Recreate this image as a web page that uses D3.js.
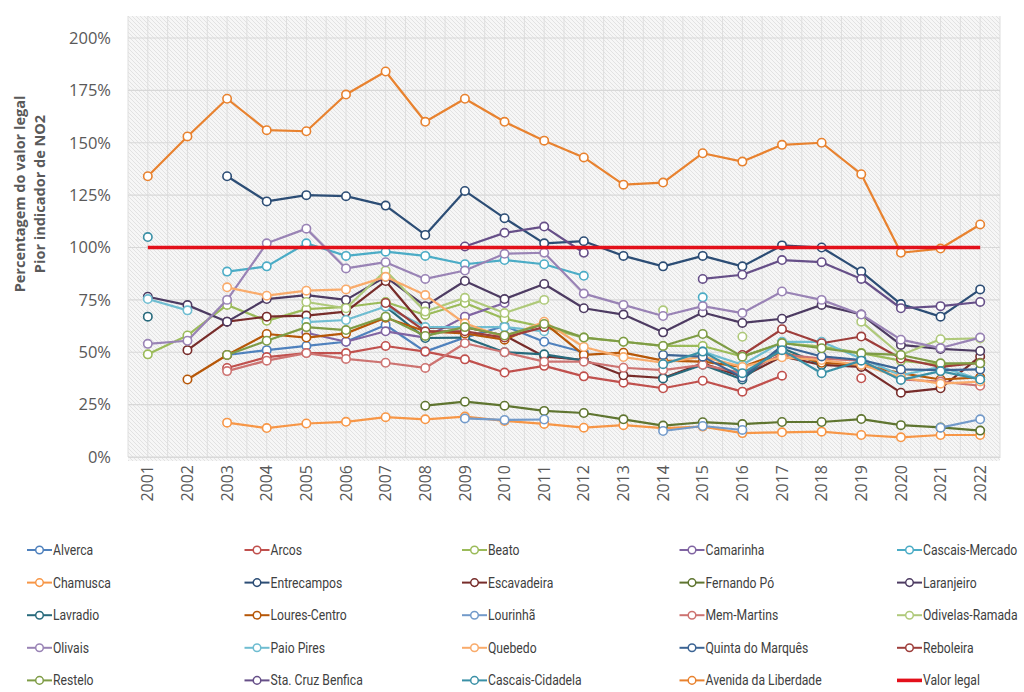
<!DOCTYPE html>
<html><head><meta charset="utf-8">
<script src="https://cdn.jsdelivr.net/npm/d3@7"></script>
<style>body{margin:0;background:#fff}</style>
</head><body><svg id="c" width="1024" height="692"></svg>
<script>
const n = null;
const years = [2001,2002,2003,2004,2005,2006,2007,2008,2009,2010,2011,2012,2013,2014,2015,2016,2017,2018,2019,2020,2021,2022];
const yTicks = [0,25,50,75,100,125,150,175,200];
const legalValue = 100;

const alverca = [n,n,48.7,51,53,55,63,50.3,57,62.5,55,50,n,n,n,n,n,n,n,n,n,n];
const arcos = [n,n,42.5,47.7,49.6,49.6,53,50.3,46.6,40.3,43.5,38.5,35.5,32.8,36.4,31.2,38.8,n,37.6,n,n,n];
const beato = [49,58,72.6,65,70.6,71.6,74,67.8,73.5,66,62,57,55,53,53,48,54.4,52.7,49.6,46,44,45];
const camarinha = [n,n,n,n,59.3,55,60,57,67,73.5,n,n,n,n,n,n,n,n,n,n,n,n];
const cascaisMercado = [n,n,88.5,91,102,96,98,96,92,94,92,86.5,n,n,76.2,n,n,n,n,n,n,n];
const chamusca = [n,n,16.4,13.8,16,16.8,19,18,19.3,17.2,15.8,14,15.2,13.8,14.5,11.4,11.8,12.1,10.5,9.4,10.5,10.5];
const entrecampos = [n,n,134,122,125,124.5,120,106,127,114,102,103,96,91,96,91,101,100,88.5,73,67,80];
const escavadeira = [n,51,64.6,67,67.5,69.4,84,61.6,62,58,48,46.3,39,37.7,44.7,38.3,48,44,43,30.7,32.8,48];
const fernandoPo = [n,n,n,n,n,n,n,24.5,26.4,24.5,22,21,18,15,16.6,15.7,16.7,16.7,18.1,15.2,14.1,12.6];
const laranjeiro = [76.5,72.5,64.6,75.4,77.3,75,86,72,84,75.4,82.6,71,68,59.5,69,64,66,72.6,68,53.5,51.6,50.6];
const lavradio = [67,n,n,n,n,n,71.8,56.8,57,50,49,46,n,37.5,44,37,52,44,n,n,n,n];
const louresCentro = [n,37,48.7,58.7,57,59,66.5,60,59,56,64,48.7,49.8,46,45.5,43,50,45,44,40,37,38];
const lourinha = [n,n,n,n,n,n,n,n,18.4,17.7,17.9,n,n,12.4,14.8,12.9,n,n,n,n,14,18];
const memMartins = [n,n,41,46,49.6,46.8,45,42.5,54.3,50,45.5,45.5,42.6,41.5,44,40,49,47,46,37,36,34];
const odivelasRamada = [n,n,n,n,74,71,89,69.4,76,68.7,75,n,n,70,n,57.4,n,n,64.6,48.7,56.2,56.6];
const olivais = [54,55.5,75,102,109,90,93,85,89,97,97.5,78,72.6,67.3,72,68.7,79,75,68,56,52,57];
const paioPires = [75.4,70,n,n,64.4,65.4,71.8,62,62,62,60,n,n,n,50.3,44,55,55,47,39,43,37];
const quebedo = [n,n,81,77,79.4,80,86,77.3,63.8,57.2,64.6,52.5,47.7,45,47.9,43,47.6,46.3,44,38,35,36];
const quintaMarques = [n,n,n,n,n,n,n,n,n,n,n,n,n,48.7,47.9,38,53,48,46.3,41.8,41.5,41.8];
const reboleira = [n,n,n,n,n,n,73.5,60,60,57,62,n,n,n,n,48.7,61,54.3,57.5,47,43,45];
const restelo = [n,n,48.7,55.5,62,60.6,67,57.8,62,58,63.5,57,55,53,58.7,47.9,54.4,51.9,49.5,48.7,44.7,44.7];
const staCruzBenfica = [n,n,n,n,n,n,n,n,100.5,107,110,97.5,n,n,85,87,94,93,85,71,72,74];
const cascaisCidadela = [105,n,n,n,n,n,n,n,n,n,n,n,n,44.3,50.3,40,51,40,46,36.8,41,37];
const avenidaLiberdade = [134,153,171,156,155.5,173,184,160,171,160,151,143,130,131,145,141,149,150,135,97.5,99.5,111];

const seriesNames = ["Alverca","Arcos","Beato","Camarinha","Cascais-Mercado","Chamusca","Entrecampos","Escavadeira","Fernando Pó","Laranjeiro","Lavradio","Loures-Centro","Lourinhã","Mem-Martins","Odivelas-Ramada","Olivais","Paio Pires","Quebedo","Quinta do Marquês","Reboleira","Restelo","Sta. Cruz Benfica","Cascais-Cidadela","Avenida da Liberdade"];
const seriesValues = [alverca,arcos,beato,camarinha,cascaisMercado,chamusca,entrecampos,escavadeira,fernandoPo,laranjeiro,lavradio,louresCentro,lourinha,memMartins,odivelasRamada,olivais,paioPires,quebedo,quintaMarques,reboleira,restelo,staCruzBenfica,cascaisCidadela,avenidaLiberdade];
const seriesColors = ["#4F81BD","#C0504D","#9BBB59","#8064A2","#4BACC6","#F79646","#2C4D75","#772C2A","#5F7530","#4D3B62","#276A7C","#B65708","#729ACA","#CD7371","#AFC97A","#9983B5","#6FBDD1","#F9AB6B","#3C6494","#9E3E3B","#7E9C45","#664F88","#3A90A6","#E8822F"];
const legalName = "Valor legal";
const legalColor = "#E3101B";

(function(){
const svg = d3.select("#c");
const pL = 128, pR = 1000, pT = 38, pB = 457, bgTop = 16;
const x = d3.scaleBand().domain(years).range([pL, pR]);
const xc = d => x(d) + x.bandwidth()/2;
const y = d3.scaleLinear().domain([0,200]).range([pB, pT]);

const defs = svg.append("defs");
const pat = defs.append("pattern").attr("id","hatch").attr("patternUnits","userSpaceOnUse").attr("width",4).attr("height",4);
pat.append("rect").attr("width",4).attr("height",4).attr("fill","#f6f6f6");
pat.append("path").attr("d","M-1,-1 L5,5 M-1,3 L1,5 M3,-1 L5,1").attr("stroke","#e0e0e0").attr("stroke-width",0.9);
svg.append("rect").attr("x",pL).attr("y",bgTop).attr("width",pR-pL).attr("height",pB-bgTop+4).attr("fill","url(#hatch)");

const g = svg.append("g");
years.forEach(yr => {
  g.append("line").attr("x1",x(yr)).attr("x2",x(yr)).attr("y1",bgTop).attr("y2",pB).attr("stroke","#dedede").attr("stroke-width",1);
  g.append("line").attr("x1",xc(yr)).attr("x2",xc(yr)).attr("y1",bgTop).attr("y2",pB).attr("stroke","#dedede").attr("stroke-width",1);
});
g.append("line").attr("x1",pR).attr("x2",pR).attr("y1",bgTop).attr("y2",pB).attr("stroke","#dedede");
yTicks.forEach(t => {
  g.append("line").attr("x1",pL).attr("x2",pR).attr("y1",y(t)).attr("y2",y(t)).attr("stroke","#d8d8d8").attr("stroke-width",1.2);
});

const fontTick = "'Open Sans', sans-serif";
const yAxis = d3.axisLeft(y).tickValues(yTicks).tickFormat(d => d + "%").tickSize(0).tickPadding(0);
const ya = svg.append("g").attr("transform", `translate(111,0)`).call(yAxis);
ya.select(".domain").remove();
ya.selectAll("text").attr("font-family",fontTick).attr("font-size",16.5).attr("fill","#595959");

const xAxis = d3.axisBottom(x).tickSize(0).tickPadding(0);
const xa = svg.append("g").attr("transform", `translate(0,${pB})`).call(xAxis);
xa.select(".domain").attr("stroke","#d9d9d9");
xa.selectAll("text").attr("font-family",fontTick).attr("font-size",16).attr("fill","#595959")
  .attr("transform","rotate(-90)").attr("text-anchor","end").attr("x",-8).attr("y",0).attr("dy","0.35em");

const tt = svg.append("text").attr("transform","translate(27,194) rotate(-90)").attr("text-anchor","middle")
  .attr("font-family",fontTick).attr("font-weight","bold").attr("font-size",14.5).attr("fill","#595959");
tt.append("tspan").attr("x",0).attr("dy",-2).text("Percentagem do valor legal");
tt.append("tspan").attr("x",0).attr("dy",20).text("Pior indicador de NO2");

const line = d3.line().defined(d => d.v != null).x(d => xc(d.year)).y(d => y(d.v));
seriesValues.forEach((vals, i) => {
  const data = vals.map((v, k) => ({year: years[k], v}));
  const gs = svg.append("g");
  gs.append("path").datum(data).attr("d", line).attr("fill","none").attr("stroke",seriesColors[i]).attr("stroke-width",2.2).attr("stroke-linejoin","round");
  gs.selectAll("circle").data(data.filter(d => d.v != null)).join("circle")
    .attr("cx", d => xc(d.year)).attr("cy", d => y(d.v)).attr("r", 4.2)
    .attr("fill","#fff").attr("stroke",seriesColors[i]).attr("stroke-width",1.6);
});
const legalData = years.map(yr => ({year: yr, v: legalValue}));
svg.append("path").datum(legalData).attr("d", line).attr("fill","none").attr("stroke",legalColor).attr("stroke-width",3.6);

const legendItems = seriesNames.map((nm,i) => ({name:nm, color:seriesColors[i], legal:false}));
legendItems.push({name:legalName, color:legalColor, legal:true});
const lg = svg.append("g");
legendItems.forEach((it, i) => {
  const col = i % 5, row = Math.floor(i / 5);
  const lx = 27 + col * 217.5, ly = 550 + row * 32.6;
  const gi = lg.append("g").attr("transform",`translate(${lx},${ly})`);
  if (it.legal) {
    gi.append("line").attr("x1",0).attr("x2",25).attr("y1",0).attr("y2",0).attr("stroke",it.color).attr("stroke-width",3.6);
  } else {
    gi.append("line").attr("x1",0).attr("x2",25).attr("y1",0).attr("y2",0).attr("stroke",it.color).attr("stroke-width",2);
    gi.append("circle").attr("cx",12.5).attr("cy",0).attr("r",3.8).attr("fill","#fff").attr("stroke",it.color).attr("stroke-width",1.5);
  }
  gi.append("text").attr("transform","translate(26,0) scale(0.84,1)").attr("x",0).attr("y",0).attr("dy","0.35em")
    .attr("font-family","Roboto, sans-serif")
    .attr("font-size",14.5).attr("fill","#404040").text(it.name);
});
})();
</script>
</body></html>
